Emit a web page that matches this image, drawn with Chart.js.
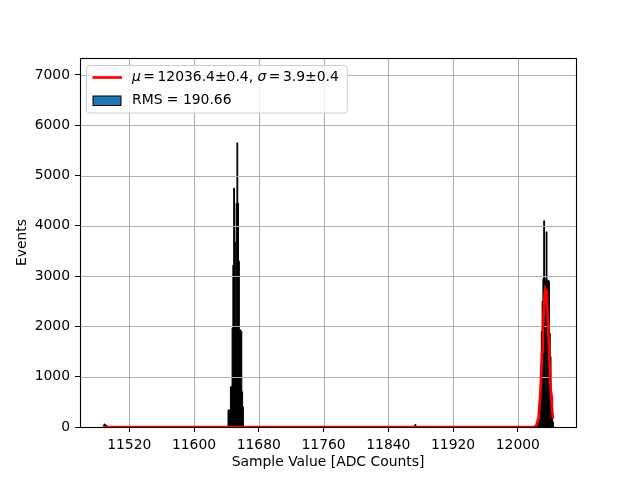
<!DOCTYPE html>
<html>
<head>
<meta charset="utf-8">
<script src="https://cdn.jsdelivr.net/npm/chart.js@4.4.0/dist/chart.umd.min.js"></script>
<style>
    html, body { margin: 0; padding: 0; background: #fff; }
    #wrap { width: 640px; height: 480px; }
</style>
</head>
<body>
<div id="wrap"><canvas id="histChart" width="640" height="480"></canvas></div>
<script>
// Histogram bins (left edge, 1 ADC count wide) and counts
const blipLowBins = [11488, 11489, 11490, 11491, 11492];
const blipLowCounts = [40, 60, 50, 30, 20];

const peakLowBins = [11642, 11643, 11644, 11645, 11646, 11647, 11648, 11649, 11650, 11651,
                     11652, 11653, 11654, 11655, 11656, 11657, 11658, 11659, 11660];
const peakLowCounts = [340, 340, 340, 800, 800, 1970, 3220, 4750, 3680, 2000,
                       4450, 5650, 4450, 3300, 1930, 1930, 1900, 700, 400];

const blipMidBins = [11872, 11873];
const blipMidCounts = [30, 50];

const peakHighBins = [12024, 12025, 12026, 12027, 12028, 12029, 12030, 12031, 12032, 12033,
                      12034, 12035, 12036, 12037, 12038, 12039, 12040, 12041, 12042, 12043];
const peakHighCounts = [40, 150, 350, 700, 1200, 1900, 2500, 2950, 4100, 2950,
                        700, 3880, 2920, 2920, 2900, 1870, 1400, 700, 280, 100];

// Red fit curve
const fitX = [11487, 12018, 12020, 12022, 12023, 12024, 12025, 12026, 12027, 12028, 12029,
              12030, 12031, 12032, 12033, 12034, 12035, 12036, 12037, 12038, 12039,
              12040, 12041, 12042, 12043, 12043.5];
const fitY = [0, 0, 3, 19, 41, 84, 160, 285, 477, 746, 1093,
              1497, 1923, 2311, 2601, 2742, 2706, 2501, 2164, 1754, 1331,
              945, 629, 391, 229, 170];

// Fit results shown in the legend
const fitMu = 12036.4, fitMuErr = 0.4;
const fitSigma = 3.9, fitSigmaErr = 0.4;
const rmsValue = 190.66;

// Axes
const xMin = 11459.15, xMax = 12071.85;
const xTicks = [11520, 11600, 11680, 11760, 11840, 11920, 12000];
const yMin = 0, yMax = 7338;
const yTicks = [0, 1000, 2000, 3000, 4000, 5000, 6000, 7000];

const FONT = 'DejaVu Sans';
const FS = 13.9;

// Function to turn bins into a stepped outline
function histPoints() {
    const clusters = [
        [blipLowBins, blipLowCounts],
        [peakLowBins, peakLowCounts],
        [blipMidBins, blipMidCounts],
        [peakHighBins, peakHighCounts]
    ];
    const pts = [];
    clusters.forEach(([bins, counts]) => {
        bins.forEach((b, i) => pts.push({ x: b, y: counts[i] }));
        pts.push({ x: bins[bins.length - 1] + 1, y: 0 });
    });
    return pts;
}

// Grid over the histogram (matplotlib draws it above patches), then the frame
const gridPlugin = {
    id: 'gridOver',
    afterDatasetDraw(chart, args) {
        if (args.index !== 0) return;
        const { ctx, chartArea: a, scales: { x, y } } = chart;
        ctx.save();
        ctx.beginPath();
        ctx.strokeStyle = '#b0b0b0';
        ctx.lineWidth = 1.1;
        x.ticks.forEach(t => {
            const px = Math.round(x.getPixelForValue(t.value)) + 0.5;
            ctx.moveTo(px, a.top);
            ctx.lineTo(px, a.bottom);
        });
        y.ticks.forEach(t => {
            const py = Math.round(y.getPixelForValue(t.value)) + 0.5;
            ctx.moveTo(a.left, py);
            ctx.lineTo(a.right, py);
        });
        ctx.stroke();
        ctx.restore();
    },
    afterDatasetsDraw(chart) {
        const { ctx, chartArea: a } = chart;
        ctx.save();
        ctx.strokeStyle = '#000';
        ctx.lineWidth = 1.1;
        ctx.strokeRect(a.left + 0.5, a.top + 0.5, a.right - a.left, a.bottom - a.top);
        ctx.restore();
    }
};

// matplotlib-style legend box
const legendPlugin = {
    id: 'mplLegend',
    afterDraw(chart) {
        const { ctx, chartArea: a } = chart;
        const regular = FS + 'px "' + FONT + '"';
        const italic = 'italic ' + FS + 'px "' + FONT + '"';
        // [text, font, gap after] - mathtext keeps tight spacing round "="
        const fitParts = [
            ['μ', italic, 2.5],
            ['=', regular, 2.5],
            [fitMu.toFixed(1) + '±' + fitMuErr.toFixed(1) + ', ', regular, 0],
            ['σ', italic, 2.5],
            ['=', regular, 2.5],
            [fitSigma.toFixed(1) + '±' + fitSigmaErr.toFixed(1), regular, 0]
        ];
        const rmsText = 'RMS = ' + rmsValue.toFixed(2);

        let fitW = 0;
        fitParts.forEach(([s, f, g]) => { ctx.font = f; fitW += ctx.measureText(s).width + g; });
        ctx.font = regular;
        const rmsW = ctx.measureText(rmsText).width;

        const left = a.left + 6.5, top = a.top + 7.5;
        const textX = left + 45.5;
        const w = 45.5 + Math.max(fitW, rmsW) + 8.5;
        const h = 47.5;

        ctx.save();
        ctx.beginPath();
        ctx.roundRect(left, top, w, h, 3);
        ctx.fillStyle = 'rgba(255,255,255,0.8)';
        ctx.fill();
        ctx.strokeStyle = '#cccccc';
        ctx.lineWidth = 1;
        ctx.stroke();

        // row 1: fit line
        const r1 = top + 12;
        ctx.beginPath();
        ctx.strokeStyle = '#ff0000';
        ctx.lineWidth = 2.7;
        ctx.moveTo(left + 6, r1);
        ctx.lineTo(left + 35.5, r1);
        ctx.stroke();

        ctx.fillStyle = '#000';
        ctx.textBaseline = 'middle';
        ctx.textAlign = 'left';
        let tx = textX;
        fitParts.forEach(([s, f, g]) => {
            ctx.font = f;
            ctx.fillText(s, tx, r1);
            tx += ctx.measureText(s).width + g;
        });

        // row 2: histogram patch
        const r2 = top + 35;
        ctx.fillStyle = '#1f77b4';
        ctx.fillRect(left + 6.5, r2 - 4.5, 28, 9.5);
        ctx.strokeStyle = '#000';
        ctx.lineWidth = 1;
        ctx.strokeRect(left + 6.5, r2 - 4.5, 28, 9.5);
        ctx.fillStyle = '#000';
        ctx.font = regular;
        ctx.fillText(rmsText, textX, r2);
        ctx.restore();
    }
};

const ctx = document.getElementById('histChart').getContext('2d');
new Chart(ctx, {
    type: 'line',
    data: {
        datasets: [
            {
                label: 'RMS',
                data: histPoints(),
                stepped: true,
                fill: 'origin',
                backgroundColor: '#000',
                borderColor: '#000',
                borderWidth: 1,
                pointRadius: 0,
                tension: 0,
                clip: 0,
                order: 2
            },
            {
                label: 'fit',
                data: fitX.map((x, i) => ({ x: x, y: fitY[i] })),
                borderColor: '#ff0000',
                borderWidth: 2.7,
                fill: false,
                pointRadius: 0,
                tension: 0,
                clip: 0,
                order: 1
            }
        ]
    },
    options: {
        responsive: false,
        animation: false,
        layout: { padding: { left: 0, right: 64, top: 58, bottom: 0 } },
        plugins: {
            legend: { display: false },
            tooltip: { enabled: false }
        },
        scales: {
            x: {
                type: 'linear',
                min: xMin,
                max: xMax,
                afterBuildTicks: s => { s.ticks = xTicks.map(v => ({ value: v })); },
                afterFit: s => { s.height = 53; },
                grid: { drawOnChartArea: false, drawTicks: true, tickLength: 5, tickColor: '#000', tickWidth: 1 },
                border: { display: false },
                ticks: {
                    color: '#000',
                    font: { family: FONT, size: FS },
                    padding: 5,
                    maxRotation: 0,
                    autoSkip: false,
                    callback: v => String(v)
                },
                title: {
                    display: true,
                    text: 'Sample Value [ADC Counts]',
                    color: '#000',
                    font: { family: FONT, size: FS },
                    padding: { top: 0, bottom: 9.2 }
                }
            },
            y: {
                min: yMin,
                max: yMax,
                afterBuildTicks: s => { s.ticks = yTicks.map(v => ({ value: v })); },
                afterFit: s => { s.width = 80; },
                grid: { drawOnChartArea: false, drawTicks: true, tickLength: 5, tickColor: '#000', tickWidth: 1 },
                border: { display: false },
                ticks: {
                    color: '#000',
                    font: { family: FONT, size: FS },
                    padding: 5,
                    callback: v => String(v)
                },
                title: {
                    display: true,
                    text: 'Events',
                    color: '#000',
                    font: { family: FONT, size: FS },
                    padding: { top: 13.7, bottom: 0 }
                }
            }
        }
    },
    plugins: [gridPlugin, legendPlugin]
});
</script>
</body>
</html>
